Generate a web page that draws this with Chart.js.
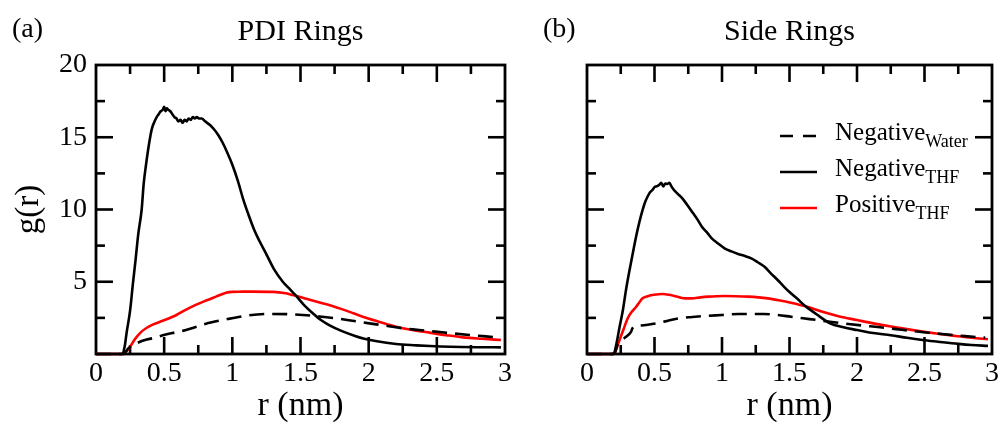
<!DOCTYPE html>
<html><head><meta charset="utf-8">
<script src="https://cdn.jsdelivr.net/npm/chart.js@4.4.1/dist/chart.umd.min.js"></script>
<style>
html,body{margin:0;padding:0;background:#fff;}
#wrap{position:relative;width:1005px;height:423px;background:#fff;}
canvas{position:absolute;left:0;top:0;}
</style></head><body>
<div id="wrap"><canvas id="cA" width="1005" height="423"></canvas><canvas id="cB" width="1005" height="423"></canvas></div>
<script>
// ---------- tick labels ----------
const xTickLabels = ['0', '0.5', '1', '1.5', '2', '2.5', '3'];
const yTickLabels = ['', '5', '10', '15', '20'];
const panelTitles = ['PDI Rings', 'Side Rings'];
const panelLetters = ['(a)', '(b)'];
const seriesNames = ['Negative_Water', 'Negative_THF', 'Positive_THF'];

// ---------- panel (a): PDI Rings ----------
const rA_negWater = [0, 0.2, 0.237, 0.3, 0.372, 0.43, 0.49, 0.56, 0.636, 0.69, 0.807, 0.9, 0.983, 1.1, 1.27, 1.4, 1.516, 1.64, 1.76, 1.88, 2.005, 2.13, 2.25, 2.37, 2.49, 2.62, 2.74, 2.86, 2.97];
const gA_negWater = [0, 0, 0.39, 0.75, 1.0, 1.12, 1.3, 1.45, 1.6, 1.75, 2.1, 2.3, 2.45, 2.65, 2.77, 2.76, 2.7, 2.6, 2.47, 2.3, 2.12, 1.95, 1.78, 1.66, 1.55, 1.42, 1.31, 1.22, 1.13];

const rA_negTHF = [0, 0.19, 0.21, 0.225, 0.25, 0.27, 0.29, 0.31, 0.335, 0.35, 0.367, 0.39, 0.41, 0.43, 0.445, 0.46, 0.475, 0.49, 0.5, 0.51, 0.52, 0.53, 0.545, 0.56, 0.575, 0.59, 0.605, 0.62, 0.635, 0.65, 0.665, 0.68, 0.695, 0.71, 0.725, 0.74, 0.755, 0.775, 0.8, 0.836, 0.87, 0.9, 0.93, 0.96, 1.0, 1.04, 1.08, 1.12, 1.16, 1.2, 1.25, 1.31, 1.37, 1.42, 1.47, 1.53, 1.59, 1.65, 1.71, 1.8, 1.9, 1.96, 2.05, 2.2, 2.35, 2.45, 2.6, 2.8, 2.97];
const gA_negTHF = [0, 0, 0.5, 1.5, 3.0, 4.8, 6.5, 8.3, 10.0, 11.8, 13.1, 14.6, 15.6, 16.1, 16.4, 16.6, 16.8, 16.9, 17.1, 16.8, 17.0, 16.9, 16.8, 16.6, 16.4, 16.3, 16.1, 16.2, 16.0, 16.2, 16.1, 16.3, 16.2, 16.4, 16.3, 16.4, 16.3, 16.3, 16.1, 15.85, 15.5, 15.1, 14.6, 14.0, 13.1, 12.0, 10.7, 9.6, 8.6, 7.8, 6.9, 5.8, 5.0, 4.5, 4.0, 3.35, 2.82, 2.35, 2.0, 1.6, 1.25, 1.08, 0.9, 0.69, 0.6, 0.55, 0.5, 0.47, 0.46];

const rA_posTHF = [0, 0.19, 0.22, 0.25, 0.28, 0.3, 0.34, 0.37, 0.42, 0.489, 0.59, 0.636, 0.72, 0.807, 0.88, 0.954, 1.0, 1.05, 1.15, 1.3, 1.38, 1.443, 1.55, 1.71, 1.85, 1.956, 2.08, 2.2, 2.32, 2.445, 2.57, 2.69, 2.83, 2.97];
const gA_posTHF = [0, 0, 0.15, 0.5, 0.95, 1.2, 1.6, 1.8, 2.05, 2.3, 2.7, 2.95, 3.35, 3.7, 3.97, 4.24, 4.3, 4.31, 4.32, 4.3, 4.22, 4.08, 3.8, 3.39, 2.95, 2.58, 2.22, 1.89, 1.67, 1.48, 1.3, 1.15, 1.05, 0.97];

// ---------- panel (b): Side Rings ----------
const rB_negWater = [0, 0.2, 0.229, 0.275, 0.327, 0.335, 0.35, 0.4, 0.45, 0.51, 0.6, 0.68, 0.78, 0.875, 1.0, 1.12, 1.31, 1.41, 1.51, 1.6, 1.705, 1.8, 1.9, 2.03, 2.17, 2.29, 2.41, 2.53, 2.655, 2.8, 2.95];
const gB_negWater = [0, 0, 0.74, 1.09, 1.55, 1.75, 1.9, 1.97, 2.03, 2.12, 2.3, 2.47, 2.56, 2.63, 2.7, 2.77, 2.77, 2.7, 2.58, 2.47, 2.35, 2.23, 2.12, 1.98, 1.85, 1.72, 1.59, 1.47, 1.36, 1.24, 1.13];

const rB_negTHF = [0, 0.19, 0.205, 0.22, 0.24, 0.266, 0.29, 0.315, 0.34, 0.363, 0.39, 0.412, 0.43, 0.449, 0.467, 0.485, 0.5, 0.515, 0.534, 0.55, 0.565, 0.58, 0.595, 0.61, 0.625, 0.644, 0.67, 0.705, 0.74, 0.778, 0.815, 0.851, 0.89, 0.924, 0.97, 1.022, 1.07, 1.119, 1.17, 1.217, 1.265, 1.315, 1.36, 1.412, 1.46, 1.51, 1.56, 1.607, 1.7, 1.8, 1.9, 2.0, 2.12, 2.25, 2.37, 2.485, 2.6, 2.75, 2.85, 2.97];
const gB_negTHF = [0, 0, 0.16, 0.8, 1.8, 3.05, 4.5, 5.8, 7.0, 8.1, 9.2, 9.97, 10.5, 10.9, 11.2, 11.35, 11.55, 11.6, 11.7, 11.85, 11.6, 11.8, 11.76, 11.85, 11.6, 11.35, 11.1, 10.78, 10.35, 9.85, 9.35, 8.81, 8.4, 8.0, 7.65, 7.3, 7.1, 6.92, 6.78, 6.62, 6.35, 6.04, 5.6, 5.12, 4.65, 4.2, 3.8, 3.39, 2.75, 2.12, 1.85, 1.66, 1.45, 1.3, 1.12, 0.97, 0.85, 0.7, 0.62, 0.56];

const rB_posTHF = [0, 0.19, 0.205, 0.22, 0.241, 0.27, 0.302, 0.33, 0.363, 0.39, 0.412, 0.45, 0.485, 0.52, 0.558, 0.59, 0.619, 0.655, 0.693, 0.73, 0.778, 0.84, 0.9, 0.96, 1.022, 1.1, 1.192, 1.27, 1.339, 1.42, 1.51, 1.63, 1.75, 1.87, 2.0, 2.12, 2.25, 2.37, 2.485, 2.6, 2.73, 2.85, 2.97];
const gB_posTHF = [0, 0, 0.05, 0.4, 0.97, 1.7, 2.47, 2.9, 3.25, 3.6, 3.85, 4.0, 4.08, 4.12, 4.15, 4.12, 4.08, 4.0, 3.9, 3.85, 3.85, 3.92, 3.97, 4.0, 4.01, 4.0, 3.97, 3.92, 3.85, 3.72, 3.55, 3.27, 2.9, 2.6, 2.35, 2.12, 1.9, 1.72, 1.55, 1.4, 1.25, 1.12, 1.02];

// ---------- helpers ----------
const FONT = "'Liberation Serif', 'Times New Roman', Times, serif";
const pts = (r, g) => r.map((x, i) => ({x: x, y: g[i]}));

function mkDatasets(rw, gw, rn, gn, rp, gp) {
  return [
    {label: seriesNames[0], data: pts(rw, gw), borderColor: '#000', borderDash: [15, 8], borderWidth: 2.6},
    {label: seriesNames[1], data: pts(rn, gn), borderColor: '#000', borderWidth: 2.6},
    {label: seriesNames[2], data: pts(rp, gp), borderColor: '#ff0000', borderWidth: 2.6}
  ].map(d => Object.assign(d, {pointRadius: 0, fill: false, cubicInterpolationMode: 'monotone', clip: false}));
}

// frame + inward ticks on all four sides
const frameTicks = {
  id: 'frameTicks',
  beforeDatasetsDraw(chart) {
    const {ctx, chartArea: a} = chart;
    const xs = chart.scales.x, ys = chart.scales.y;
    ctx.save();
    ctx.strokeStyle = '#000';
    ctx.lineCap = 'butt';
    ctx.lineWidth = 2.6;
    const seg = (x1, y1, x2, y2) => { ctx.beginPath(); ctx.moveTo(x1, y1); ctx.lineTo(x2, y2); ctx.stroke(); };
    const xv = xs.ticks.map(t => t.value), yv = ys.ticks.map(t => t.value);
    const MAJ = 17, MIN = 9;
    for (let i = 0; i < xv.length; i++) {
      if (i > 0 && i < xv.length - 1) {
        const p = xs.getPixelForValue(xv[i]);
        seg(p, a.bottom, p, a.bottom - MAJ); seg(p, a.top, p, a.top + MAJ);
      }
      if (i < xv.length - 1) {
        const p = xs.getPixelForValue((xv[i] + xv[i + 1]) / 2);
        seg(p, a.bottom, p, a.bottom - MIN); seg(p, a.top, p, a.top + MIN);
      }
    }
    for (let i = 0; i < yv.length; i++) {
      if (i > 0 && i < yv.length - 1) {
        const p = ys.getPixelForValue(yv[i]);
        seg(a.left, p, a.left + MAJ, p); seg(a.right, p, a.right - MAJ, p);
      }
      if (i < yv.length - 1) {
        const p = ys.getPixelForValue((yv[i] + yv[i + 1]) / 2);
        seg(a.left, p, a.left + MIN, p); seg(a.right, p, a.right - MIN, p);
      }
    }
    ctx.lineWidth = 2.8;
    ctx.strokeRect(a.left, a.top, a.right - a.left, a.bottom - a.top);
    ctx.restore();
  }
};

// panel letter
const letterPlugin = {
  id: 'letter',
  afterDraw(chart, args, opts) {
    const ctx = chart.ctx;
    ctx.save();
    ctx.font = '28px ' + FONT;
    ctx.fillStyle = '#000';
    ctx.textBaseline = 'alphabetic';
    ctx.fillText(opts.text, opts.x, opts.y);
    ctx.restore();
  }
};

// legend with subscripts (panel b)
const subLegend = {
  id: 'subLegend',
  afterDraw(chart, args, opts) {
    if (!opts.show) return;
    const {ctx, chartArea: a} = chart;
    const ds = chart.data.datasets;
    ctx.save();
    const x0 = a.right - 212, x1 = a.right - 175, tx = a.right - 157;
    ds.forEach((d, i) => {
      const y = a.top + 71 + i * 36;
      ctx.strokeStyle = d.borderColor;
      ctx.lineWidth = 2.6;
      ctx.setLineDash(d.borderDash ? [13, 10] : []);
      ctx.beginPath(); ctx.moveTo(x0, y); ctx.lineTo(x1, y); ctx.stroke();
      ctx.setLineDash([]);
      const parts = d.label.split('_');
      ctx.fillStyle = '#000';
      ctx.textBaseline = 'alphabetic';
      ctx.font = '25px ' + FONT;
      ctx.fillText(parts[0], tx, y + 3.5);
      const w = ctx.measureText(parts[0]).width;
      ctx.font = '18px ' + FONT;
      ctx.fillText(parts[1], tx + w, y + 11);
    });
    ctx.restore();
  }
};

function makeChart(id, datasets, idx, padding, yWidth, showYLabels) {
  return new Chart(document.getElementById(id), {
    type: 'line',
    data: {datasets: datasets},
    options: {
      responsive: false, animation: false, devicePixelRatio: 1,
      layout: {padding: padding},
      plugins: {
        legend: {display: false}, tooltip: {enabled: false},
        title: {display: true, text: panelTitles[idx], fullSize: false, color: '#000',
          font: {family: FONT, size: 30, weight: 'normal', lineHeight: 1},
          padding: {top: 17.5, bottom: 17.5}},
        letter: {text: panelLetters[idx], x: idx === 0 ? 12 : 543, y: 37},
        subLegend: {show: idx === 1}
      },
      scales: {
        x: {
          type: 'linear', min: 0, max: 3,
          grid: {display: false, drawTicks: false}, border: {display: false},
          ticks: {stepSize: 0.5, autoSkip: false, maxRotation: 0, padding: 6, color: '#000',
            font: {family: FONT, size: 28, lineHeight: 1},
            callback: (v, i) => xTickLabels[i]},
          title: {display: true, text: 'r (nm)', color: '#000', padding: {top: 0, bottom: 0},
            font: {family: FONT, size: 34, lineHeight: 1}},
          afterFit: s => { s.height = 69; }
        },
        y: {
          type: 'linear', min: 0, max: 20,
          grid: {display: false, drawTicks: false}, border: {display: false},
          ticks: {display: showYLabels, stepSize: 5, padding: 9, color: '#000',
            font: {family: FONT, size: 28, lineHeight: 1},
            callback: (v, i) => yTickLabels[i]},
          title: {display: showYLabels, text: 'g(r)', color: '#000', padding: {top: 12.5, bottom: 0},
            font: {family: FONT, size: 33, lineHeight: 1}},
          afterFit: s => { s.width = yWidth; }
        }
      }
    },
    plugins: [frameTicks, letterPlugin, subLegend]
  });
}

makeChart('cA', mkDatasets(rA_negWater, gA_negWater, rA_negTHF, gA_negTHF, rA_posTHF, gA_posTHF), 0,
  {top: 0, left: 0, right: 500, bottom: 0}, 96, true);
makeChart('cB', mkDatasets(rB_negWater, gB_negWater, rB_negTHF, gB_negTHF, rB_posTHF, gB_posTHF), 1,
  {top: 0, left: 587, right: 8, bottom: 0}, 0, false);
</script>
</body></html>
